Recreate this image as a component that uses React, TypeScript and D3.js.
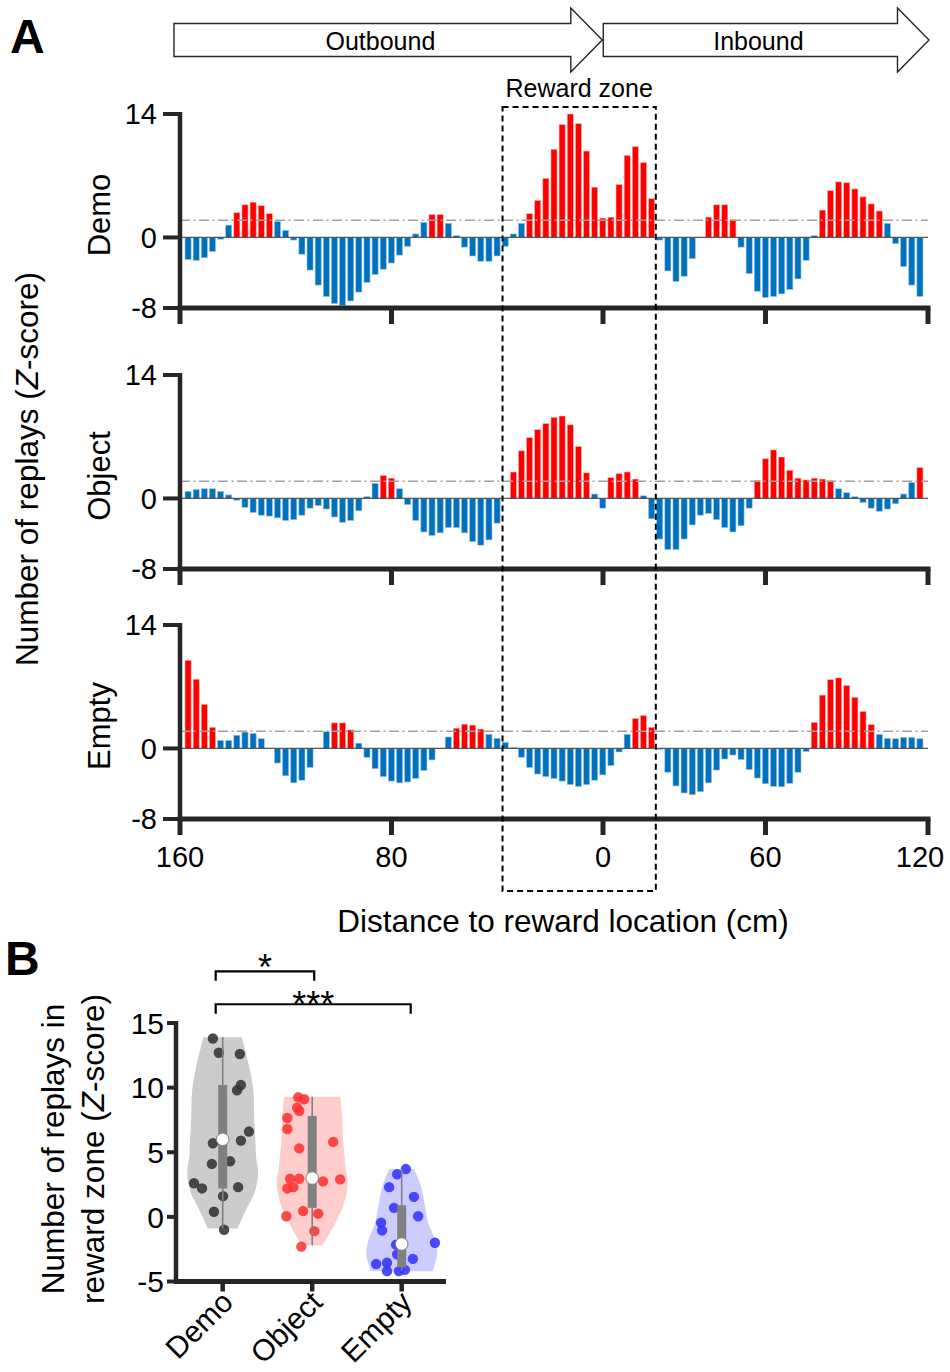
import * as d3 from 'd3';
import React from 'react';

// ---- panel A data: z-scored replay counts per spatial bin (outbound start -> inbound end) ----
const conditions = ['Demo', 'Object', 'Empty'];

const demoZ = [
  -2.5, -2.6, -2.3, -1.6, -0.2, 1.4, 2.8, 3.7, 4.0, 3.6,
  2.7, 1.8, 0.8, -0.3, -1.9, -3.7, -5.4, -6.7, -7.5, -7.7,
  -7.2, -6.2, -5.1, -4.2, -3.6, -2.9, -2.0, -1.0, 0.4, 1.7,
  2.6, 2.6, 1.6, 0.2, -1.1, -2.1, -2.7, -2.7, -2.1, -1.0,
  0.4, 1.6, 2.7, 4.2, 6.7, 10.0, 12.8, 14.0, 12.9, 9.8,
  5.7, 2.2, 2.3, 6.0, 9.3, 10.3, 8.5, 4.4, -0.3, -3.8,
  -5.0, -4.4, -2.4, 0, 2.3, 3.7, 3.7, 2.0, -1.1, -4.1,
  -6.1, -6.8, -6.7, -6.4, -5.9, -4.7, -2.6, 0.2, 3.1, 5.3,
  6.3, 6.2, 5.5, 4.6, 3.8, 3.0, 1.6, -0.7, -3.3, -5.4, -6.7,
];

const objectZ = [
  0.8, 1.0, 1.1, 1.1, 0.8, 0.4, -0.2, -1.0, -1.6, -1.9,
  -2.0, -2.2, -2.5, -2.4, -1.9, -1.1, -0.8, -1.2, -2.1, -2.7,
  -2.5, -1.4, 0.2, 1.7, 2.6, 2.3, 1.1, -0.7, -2.5, -3.8,
  -4.2, -3.9, -3.3, -3.3, -3.9, -4.9, -5.3, -4.7, -2.8, 0,
  3.0, 5.4, 6.9, 7.8, 8.5, 9.2, 9.35, 8.35, 5.9, 2.9,
  0.5, -1.1, 2.35, 2.8, 3.0, 2.2, 0.3, -2.3, -4.6, -5.8,
  -5.8, -4.6, -3.0, -1.9, -1.7, -2.4, -3.3, -3.8, -3.1, -1.1,
  2.05, 4.5, 5.5, 4.7, 3.2, 2.3, 2.1, 2.3, 2.2, 2.0,
  1.1, 0.65, 0.2, -0.45, -1.1, -1.45, -1.2, -0.6, 0.5, 1.8, 3.5,
];

const emptyZ = [
  10.0, 7.85, 5.0, 2.4, 0.9, 0.9, 1.5, 1.85, 1.7, 1.1,
  0, -1.65, -3.1, -3.9, -3.6, -2.15, 0, 1.9, 2.9, 2.9,
  2.1, 0.6, -1.0, -2.3, -3.2, -3.7, -3.9, -3.8, -3.4, -2.5,
  -1.3, 0, 1.3, 2.3, 2.75, 2.65, 2.2, 1.6, 1.15, 0.7,
  0.1, -1.0, -2.15, -2.9, -3.2, -3.4, -3.7, -4.1, -4.3, -4.1,
  -3.6, -3.0, -1.95, -0.4, 1.6, 3.4, 3.75, 2.4, -0.1, -2.7,
  -4.25, -5.05, -5.25, -4.9, -3.9, -2.45, -1.2, -0.75, -1.25, -2.4,
  -3.35, -4.0, -4.3, -4.35, -3.95, -2.7, -0.35, 2.95, 6.05, 7.8,
  8.0, 7.15, 5.8, 4.2, 2.7, 1.6, 1.15, 1.1, 1.25, 1.25, 1.1,
];

const panelSeries = [demoZ, objectZ, emptyZ];

// track position in cm from the outbound start; reward at 160, end of inbound at 280
const xTickPos = [0, 80, 160, 220, 280];
const xTickLabels = ['160', '80', '0', '60', '120'];
const yTicksA = [14, 0, -8];
const sigLevel = 1.96;
const rewardZone = [122, 179.5];

// ---- panel B data: replays in reward zone per animal ----
const demoPts = [13.8, 12.7, 12.6, 10.2, 9.8, 5.7, 5.9, 6.6, 4.1, 4.3, 2.6, 2.2, 2.3, 1.6, 0.4, -1.0];
const demoJit = [-0.28, -0.11, 0.49, 0.52, 0.41, -0.28, 0.52, 0.75, -0.31, 0.21, -0.82, -0.59, 0.44, 0.01, -0.25, 0.04];
const objectPts = [9.25, 9.1, 8.45, 8.2, 7.65, 6.8, 5.8, 5.3, 2.95, 2.95, 2.75, 2.9, 2.2, 2.3, 0.45, 0.25, 0.05, -1.1, -2.3];
const objectJit = [-0.4, -0.23, -0.43, -0.37, -0.71, -0.71, 0.6, -0.37, -0.63, -0.37, 0.31, 0.8, -0.71, -0.54, -0.26, 0.17, -0.74, 0.06, -0.31];
const emptyPts = [3.7, 3.3, 2.3, 1.55, 0.7, 0.05, -0.45, -1.05, -2.15, -2.0, -2.9, -3.25, -3.65, -3.55, -4.2, -4.2, -4.1];
const emptyJit = [0.12, -0.13, -0.36, 0.35, -0.22, 0.47, -0.59, -0.56, -0.16, 0.95, -0.13, 0.32, -0.73, -0.42, -0.42, -0.08, 0.09];

// violin outlines (value, relative density)
const demoViolinV = [13.9, 11.6, 9.8, 7.5, 5.9, 4.65, 3.4, 1.8, 0.5, -0.9];
const demoViolinD = [0.54, 0.75, 0.86, 0.89, 0.92, 0.94, 1.0, 0.89, 0.65, 0.42];
const objectViolinV = [9.3, 7.5, 5.9, 3.9, 2.6, 1.0, -0.65, -2.2];
const objectViolinD = [0.79, 0.85, 0.87, 0.94, 1.0, 0.89, 0.62, 0.29];
const emptyViolinV = [3.7, 2.3, 0.8, -0.5, -1.8, -2.85, -3.6, -4.2];
const emptyViolinD = [0.35, 0.55, 0.66, 0.75, 0.94, 1.0, 0.94, 0.87];

const q1s = [2.2, 0.7, -3.9];
const medians = [6.0, 3.0, -2.1];
const q3s = [10.2, 7.8, 0.9];
const mins = [-0.9, -2.2, -4.2];
const maxs = [13.9, 9.3, 3.7];

const yTicksB = [15, 10, 5, 0, -5];
const sigPairs = [
  { a: 'Demo', b: 'Object', label: '*', level: 19.0 },
  { a: 'Demo', b: 'Empty', label: '***', level: 16.45 },
];

const FONT = "Arial, 'Liberation Sans', Helvetica, sans-serif";
const AX = '#262626';
const RED = '#ff0000';
const BLUE = '#0072bd';

const trackX = d3.scaleLinear().domain([0, 160, 280]).range([180, 603, 928]);
const binX = d3
  .scaleBand<number>()
  .domain(d3.range(demoZ.length))
  .range([184, 924])
  .paddingInner(0.25)
  .paddingOuter(0.125);
const panelTops = [114, 375, 625];
const panelH = 194;

const BarPanel = ({ name, values, top, showLabels }) => {
  const y = d3.scaleLinear().domain([-8, 14]).range([top + panelH, top]);
  const bottom = top + panelH;
  return (
    <g>
      {values.map((v, i) => (
        <rect
          key={i}
          x={binX(i)}
          width={binX.bandwidth()}
          y={y(Math.max(0, v))}
          height={Math.abs(y(v) - y(0))}
          fill={v > sigLevel ? RED : BLUE}
          stroke={v > sigLevel ? '#ffb0b0' : '#9cc4e4'}
          strokeWidth={0.6}
        />
      ))}
      <line x1={trackX(0)} x2={trackX(280)} y1={y(0)} y2={y(0)} stroke="#555" strokeWidth={1.3} />
      <line
        x1={trackX(0)}
        x2={trackX(280)}
        y1={y(sigLevel)}
        y2={y(sigLevel)}
        stroke="#a0a0a0"
        strokeWidth={1.5}
        strokeDasharray="10,3.5,2,3.5"
      />
      {/* y axis */}
      <line x1={180} x2={180} y1={top - 2} y2={bottom} stroke={AX} strokeWidth={4.5} />
      {yTicksA.map((t) => (
        <g key={t}>
          <line x1={163} x2={182} y1={y(t)} y2={y(t)} stroke={AX} strokeWidth={4} />
          <text x={157} y={y(t)} dy="0.36em" textAnchor="end" fontSize={29} fontFamily={FONT} fill="#000">
            {t}
          </text>
        </g>
      ))}
      {/* x axis */}
      <line x1={177.5} x2={930.5} y1={bottom} y2={bottom} stroke={AX} strokeWidth={5} />
      {xTickPos.map((p, i) => (
        <g key={p}>
          <line x1={trackX(p)} x2={trackX(p)} y1={bottom} y2={bottom + 16} stroke={AX} strokeWidth={5} />
          {showLabels && (
            <text
              x={trackX(p) - (i === xTickPos.length - 1 ? 8 : 0)}
              y={bottom + 48}
              textAnchor="middle"
              fontSize={29}
              fontFamily={FONT}
              fill="#000"
            >
              {xTickLabels[i]}
            </text>
          )}
        </g>
      ))}
      <text
        transform={`translate(110,${top + panelH / 2 + 4}) rotate(-90)`}
        textAnchor="middle"
        fontSize={31}
        fontFamily={FONT}
        fill="#000"
      >
        {name}
      </text>
    </g>
  );
};

const Arrow = ({ x0, tip, label }) => {
  const cy = 40;
  const body = 16.5;
  const head = 32;
  const base = tip - 31.5;
  const pts = [
    [x0, cy - body],
    [base, cy - body],
    [base, cy - head],
    [tip, cy],
    [base, cy + head],
    [base, cy + body],
    [x0, cy + body],
  ];
  return (
    <g>
      <polygon points={pts.map((p) => p.join(',')).join(' ')} fill="#fff" stroke={AX} strokeWidth={1.4} />
      <text x={(x0 + base) / 2 + 8} y={cy + 10} textAnchor="middle" fontSize={25} fontFamily={FONT} fill="#000">
        {label}
      </text>
    </g>
  );
};

const PanelB = () => {
  const x = d3.scalePoint<string>().domain(conditions).range([222.7, 401.7]);
  const y = d3.scaleLinear().domain([-5, 15]).range([1281.5, 1023]);
  const halfW = d3.scaleLinear().domain([0, 1]).range([0, 35.5]);
  const jit = d3.scaleLinear().domain([-1, 1]).range([-35, 35]);
  const violins = [
    { v: demoViolinV, d: demoViolinD, pts: demoPts, jit: demoJit, fill: '#cccccc', dot: '#333333' },
    { v: objectViolinV, d: objectViolinD, pts: objectPts, jit: objectJit, fill: '#ffcccc', dot: '#ff3333' },
    { v: emptyViolinV, d: emptyViolinD, pts: emptyPts, jit: emptyJit, fill: '#ccccff', dot: '#3333ff' },
  ];
  return (
    <g>
      {violins.map((vl, k) => {
        const cx = x(conditions[k]);
        const rows = vl.v.map((v, i) => ({ v, d: vl.d[i] }));
        const area = d3
          .area<{ v: number; d: number }>()
          .y((r) => y(r.v))
          .x0((r) => cx - halfW(r.d))
          .x1((r) => cx + halfW(r.d))
          .curve(d3.curveCatmullRom);
        return (
          <g key={k}>
            <path d={area(rows)} fill={vl.fill} stroke="none" />
            {vl.pts.map((p, i) => (
              <circle key={i} cx={cx + jit(vl.jit[i])} cy={y(p)} r={5.2} fill={vl.dot} fillOpacity={0.88} />
            ))}
            <line x1={cx} x2={cx} y1={y(mins[k])} y2={y(maxs[k])} stroke="#808080" strokeWidth={1.6} />
            <rect x={cx - 4.5} width={9} y={y(q3s[k])} height={y(q1s[k]) - y(q3s[k])} fill="#808080" />
            <circle cx={cx} cy={y(medians[k])} r={6.3} fill="#fff" stroke="#808080" strokeWidth={1} />
          </g>
        );
      })}
      {/* axes */}
      <line x1={176} x2={176} y1={y(15) - 2} y2={y(-5)} stroke={AX} strokeWidth={4.5} />
      {yTicksB.map((t) => (
        <g key={t}>
          <line x1={167} x2={178} y1={y(t)} y2={y(t)} stroke={AX} strokeWidth={4} />
          <text x={164} y={y(t)} dy="0.36em" textAnchor="end" fontSize={30} fontFamily={FONT} fill="#000">
            {t}
          </text>
        </g>
      ))}
      <line x1={174} x2={446} y1={y(-5)} y2={y(-5)} stroke={AX} strokeWidth={5} />
      {conditions.map((c) => (
        <g key={c}>
          <line x1={x(c)} x2={x(c)} y1={y(-5)} y2={y(-5) + 10} stroke={AX} strokeWidth={4.5} />
          <text
            transform={`translate(${x(c) + 12},${1304}) rotate(-45)`}
            textAnchor="end"
            fontSize={30}
            fontFamily={FONT}
            fill="#000"
          >
            {c}
          </text>
        </g>
      ))}
      {/* significance brackets */}
      {sigPairs.map((s, i) => {
        const xa = x(s.a) - 7;
        const xb = x(s.b) + (s.b === 'Empty' ? 9 : 2);
        const yl = y(s.level);
        return (
          <g key={i}>
            <path
              d={`M${xa},${yl + 9.5} V${yl} H${xb} V${yl + 9.5}`}
              fill="none"
              stroke="#000"
              strokeWidth={2.2}
            />
            <text
              x={(xa + xb) / 2}
              y={yl + (s.label.length === 1 ? 9 : 13)}
              textAnchor="middle"
              fontSize={36}
              fontFamily={FONT}
              fill="#000"
            >
              {s.label}
            </text>
          </g>
        );
      })}
      <text transform="translate(64,1149) rotate(-90)" textAnchor="middle" fontSize={31.5} fontFamily={FONT} fill="#000">
        Number of replays in
      </text>
      <text transform="translate(104,1149) rotate(-90)" textAnchor="middle" fontSize={31.5} fontFamily={FONT} fill="#000">
        reward zone (<tspan fontStyle="italic">Z</tspan>-score)
      </text>
    </g>
  );
};

const App = () => {
  return (
    <svg
      width={950}
      height={1372}
      viewBox="0 0 950 1372"
      style={{ position: 'absolute', left: 0, top: 0, background: '#fff' }}
    >
      <rect width={950} height={1372} fill="#fff" />
      <text x={10} y={53} fontSize={48} fontWeight="bold" fontFamily={FONT}>
        A
      </text>
      <text x={5} y={975} fontSize={48} fontWeight="bold" fontFamily={FONT}>
        B
      </text>

      <Arrow x0={174} tip={trackX(160) - 0.7} label="Outbound" />
      <Arrow x0={trackX(160) + 0.3} tip={trackX(280) + 1} label="Inbound" />

      {conditions.map((c, i) => (
        <BarPanel key={c} name={c} values={panelSeries[i]} top={panelTops[i]} showLabels={i === 2} />
      ))}

      {/* reward zone */}
      <rect
        x={trackX(rewardZone[0])}
        width={trackX(rewardZone[1]) - trackX(rewardZone[0])}
        y={107}
        height={784}
        fill="none"
        stroke="#000"
        strokeWidth={2}
        strokeDasharray="6,4"
      />
      <text
        x={(trackX(rewardZone[0]) + trackX(rewardZone[1])) / 2}
        y={97}
        textAnchor="middle"
        fontSize={25}
        fontFamily={FONT}
      >
        Reward zone
      </text>

      <text transform="translate(38,469) rotate(-90)" textAnchor="middle" fontSize={31.5} fontFamily={FONT}>
        Number of replays (<tspan fontStyle="italic">Z</tspan>-score)
      </text>
      <text x={563} y={932} textAnchor="middle" fontSize={31.5} fontFamily={FONT}>
        Distance to reward location (cm)
      </text>

      <PanelB />
    </svg>
  );
};

export default App;
